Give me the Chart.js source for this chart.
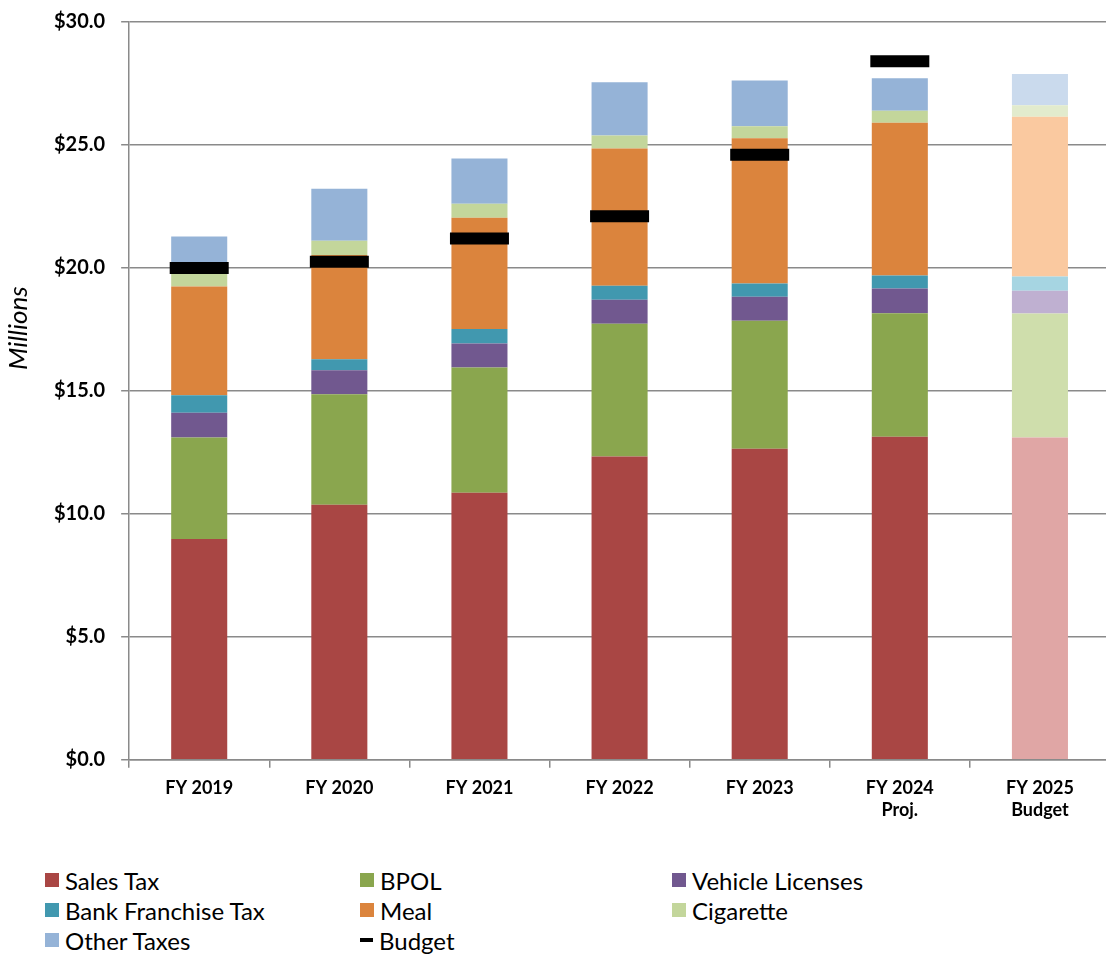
<!DOCTYPE html>
<html>
<head>
<meta charset="utf-8">
<script src="https://cdn.jsdelivr.net/npm/chart.js@4"></script>
<style>
html,body{margin:0;padding:0;background:#fff;overflow:hidden;}
#wrap{position:absolute;left:0;top:-6px;width:1112px;height:837px;}
#legend{position:absolute;left:45px;top:865px;display:grid;grid-template-columns:315px 312px 300px;grid-auto-rows:30px;font-family:Lato,"Open Sans",sans-serif;font-size:24px;color:#000;}
#legend .item{display:flex;align-items:center;white-space:nowrap;}
#legend .box{width:14px;height:14px;margin-right:6px;}
#legend .dash{width:13px;height:4px;background:#000;margin-right:6px;}
</style>
</head>
<body>
<div id="wrap"><canvas id="revenueChart"></canvas></div>
<div id="legend"></div>
<script>
// Revenue by source, $ millions
const years = [["FY 2019"],["FY 2020"],["FY 2021"],["FY 2022"],["FY 2023"],["FY 2024","Proj."],["FY 2025","Budget"]];
const salesTax = [8.98, 10.37, 10.86, 12.33, 12.65, 13.14, 13.11];
const bpol = [4.13, 4.49, 5.09, 5.40, 5.20, 5.02, 5.04];
const vehicleLicenses = [1.00, 0.98, 0.98, 0.98, 0.98, 1.00, 0.92];
const bankFranchise = [0.71, 0.45, 0.59, 0.57, 0.54, 0.53, 0.58];
const meal = [4.42, 4.24, 4.52, 5.58, 5.90, 6.21, 6.50];
const cigarette = [0.62, 0.58, 0.57, 0.53, 0.49, 0.49, 0.47];
const otherTaxes = [1.42, 2.11, 1.84, 2.16, 1.86, 1.32, 1.27];
const budget = [20.0, 20.25, 21.2, 22.1, 24.6, 28.4, null];
const yTicks = [0, 5, 10, 15, 20, 25, 30];

const FONT = "Lato, 'Open Sans', sans-serif";

// budget year gets the pale version of each colour
function shade(full, pale){
return years.map((y,i)=> i===years.length-1 ? pale : full);
}

const series = [
{label:"Sales Tax", data:salesTax, color:"#A94644", pale:"#E0A6A5"},
{label:"BPOL", data:bpol, color:"#8AA64E", pale:"#CFDEAC"},
{label:"Vehicle Licenses", data:vehicleLicenses, color:"#71588F", pale:"#BFB0D1"},
{label:"Bank Franchise Tax", data:bankFranchise, color:"#4198AF", pale:"#A6D5E2"},
{label:"Meal", data:meal, color:"#DB843D", pale:"#FAC9A0"},
{label:"Cigarette", data:cigarette, color:"#C3D69B", pale:"#E2EBCD"},
{label:"Other Taxes", data:otherTaxes, color:"#95B3D7", pale:"#CADAED"}
];

const datasets = series.map(s=>({
type:"bar",
label:s.label,
data:s.data,
backgroundColor:shade(s.color,s.pale),
stack:"rev",
order:1,
barPercentage:0.4,
categoryPercentage:1
}));

datasets.push({
type:"line",
label:"Budget",
data:budget,
stack:"budget",
order:0,
showLine:false,
pointStyle:"line",
pointRadius:29.5,
pointHoverRadius:29.5,
pointBorderWidth:12,
pointHoverBorderWidth:12,
borderColor:"#000",
backgroundColor:"#000"
});

// rotated axis title, sits a little above the middle of the plot
const axisTitle = {
id:"axisTitle",
afterDraw(chart){
const {ctx, chartArea} = chart;
ctx.save();
ctx.translate(19, chartArea.top + (chartArea.bottom - chartArea.top) * 0.415);
ctx.rotate(-Math.PI/2);
ctx.font = "italic 26px " + FONT;
ctx.fillStyle = "#000";
ctx.textAlign = "center";
ctx.textBaseline = "middle";
ctx.fillText("Millions", 0, 0);
ctx.restore();
}
};

new Chart(document.getElementById("revenueChart"),{
data:{labels:years, datasets:datasets},
options:{
responsive:true,
maintainAspectRatio:false,
animation:false,
layout:{autoPadding:false,padding:{top:3,left:38,right:2,bottom:0}},
plugins:{legend:{display:false},tooltip:{enabled:false}},
scales:{
x:{
stacked:true,
grid:{display:true,drawOnChartArea:false,drawTicks:true,tickLength:8,color:"#8a8a8a",lineWidth:1.5,offset:true},
border:{color:"#8a8a8a",width:1.5},
ticks:{color:"#000",font:{family:FONT,size:18,weight:"bold"},padding:10,maxRotation:0}
},
y:{
stacked:true,
min:0,max:30,
afterBuildTicks(scale){ scale.ticks = yTicks.map(v=>({value:v})); },
grid:{color:"#8a8a8a",lineWidth:1.5,tickLength:8},
border:{color:"#8a8a8a",width:1.5},
ticks:{color:"#000",font:{family:FONT,size:20,weight:"bold"},padding:16,
callback:v=>"$"+Number(v).toFixed(1)}
}
}
},
plugins:[axisTitle]
});

// legend laid out in three columns
const legend = document.getElementById("legend");
series.concat([{label:"Budget", dash:true}]).forEach(s=>{
const item = document.createElement("div");
item.className = "item";
const mark = document.createElement("span");
if(s.dash){ mark.className = "dash"; }
else { mark.className = "box"; mark.style.background = s.color; }
item.appendChild(mark);
item.appendChild(document.createTextNode(s.label));
legend.appendChild(item);
});
</script>
</body>
</html>
